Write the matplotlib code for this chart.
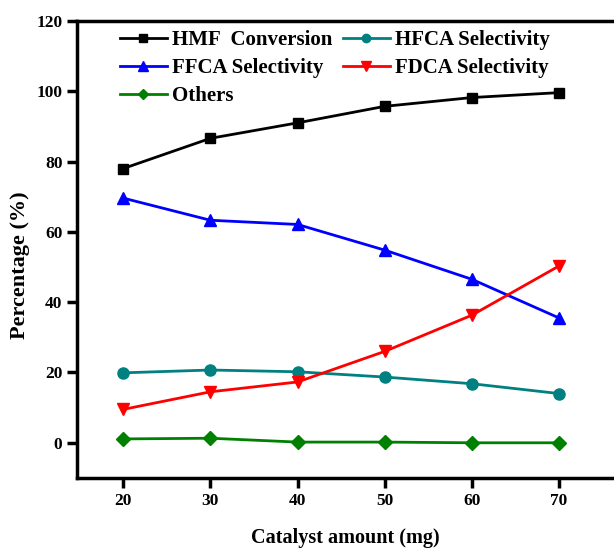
import matplotlib
matplotlib.use('Agg')
import matplotlib.pyplot as plt

catalyst_mg = [20, 30, 40, 50, 60, 70]
hmf_conversion = [78.0, 86.6, 91.0, 95.7, 98.2, 99.6]
hfca_selectivity = [19.9, 20.7, 20.2, 18.7, 16.8, 14.0]
ffca_selectivity = [69.6, 63.3, 62.1, 54.8, 46.5, 35.5]
fdca_selectivity = [9.5, 14.5, 17.3, 26.0, 36.3, 50.3]
others = [1.1, 1.3, 0.2, 0.2, 0.0, 0.0]

plt.rcParams['font.family'] = ['Liberation Serif', 'DejaVu Serif']
plt.rcParams['font.weight'] = 'bold'

fig = plt.figure(figsize=(6.14, 5.5), dpi=100)
ax = fig.add_axes([0.1254, 0.131, 0.8746, 0.831])

lw = 2
h_hmf, = ax.plot(catalyst_mg, hmf_conversion, '-s', color='black', lw=lw, ms=7, label='HMF  Conversion')
h_hfca, = ax.plot(catalyst_mg, hfca_selectivity, '-o', color='#008080', lw=lw, ms=8, label='HFCA Selectivity')
h_ffca, = ax.plot(catalyst_mg, ffca_selectivity, '-^', color='#0000ff', lw=lw, ms=9, label='FFCA Selectivity')
h_fdca, = ax.plot(catalyst_mg, fdca_selectivity, '-v', color='#ff0000', lw=lw, ms=9, label='FDCA Selectivity')
h_oth, = ax.plot(catalyst_mg, others, '-D', color='#008000', lw=lw, ms=7, label='Others')

ax.set_xlim(14.7, 76.3)
ax.set_ylim(-10, 120)
ax.set_xticks(catalyst_mg)
ax.set_yticks([0, 20, 40, 60, 80, 100, 120])

for side in ['left', 'bottom', 'top']:
    ax.spines[side].set_linewidth(2.5)
ax.spines['right'].set_visible(False)
ax.tick_params(axis='both', direction='out', width=2.5, length=7, labelsize=12.5)

ax.set_xlabel('Catalyst amount (mg)', fontsize=14.5, fontweight='bold', labelpad=14)
ax.set_ylabel('Percentage (%)', fontsize=16, fontweight='bold', va='center')
ax.yaxis.set_label_coords(-0.106, 0.466)

leg = ax.legend(handles=[h_hmf, h_ffca, h_oth, h_hfca, h_fdca], ncol=2,
                loc='upper left', bbox_to_anchor=(120 / 614, 1 - 30 / 550),
                bbox_transform=fig.transFigure, frameon=False,
                prop={'size': 15, 'weight': 'bold'}, handlelength=2.25,
                handletextpad=0.25, columnspacing=0.5, labelspacing=0.38,
                borderaxespad=0, borderpad=0, markerscale=0.75)

fig.savefig('out.png', dpi=100)
